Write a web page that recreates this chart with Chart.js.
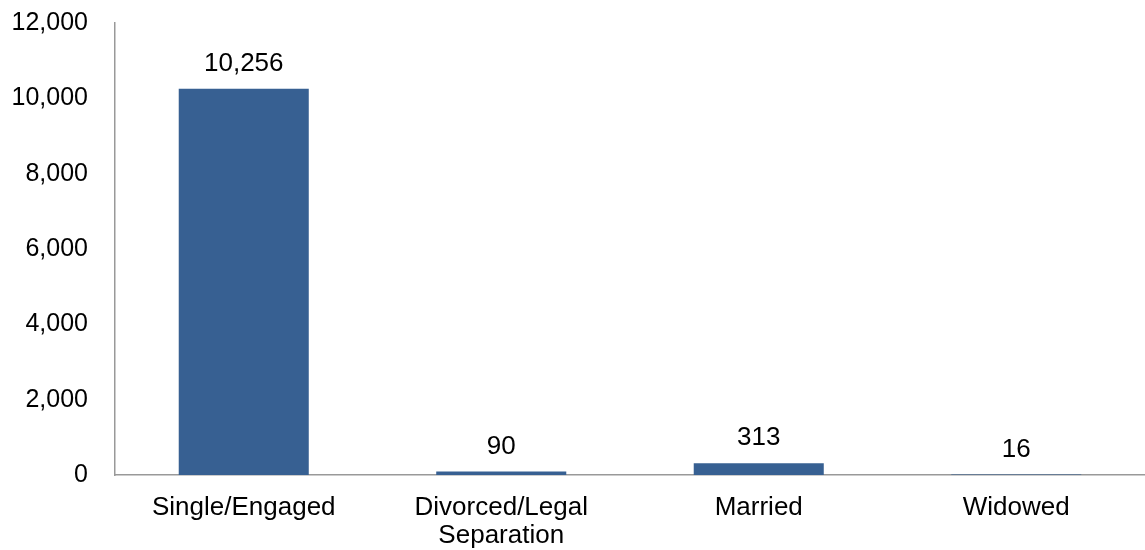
<!DOCTYPE html>
<html>
<head>
<meta charset="utf-8">
<script src="https://cdn.jsdelivr.net/npm/chart.js@4"></script>
<style>
  html, body { margin: 0; padding: 0; background: #fff; overflow: hidden; }
  #outer { width: 1145px; height: 550px; overflow: hidden; }
  #wrap { width: 1145px; height: 569px; margin-top: -19px; }
</style>
</head>
<body>
<div id="outer"><div id="wrap"><canvas id="myChart"></canvas></div></div>
<script>
// data
var categories = ["Single/Engaged", ["Divorced/Legal", "Separation"], "Married", "Widowed"];
var counts = [10256, 90, 313, 16];
var yTicks = [0, 2000, 4000, 6000, 8000, 10000, 12000];

var fontFam = "'Liberation Sans', Arial, sans-serif";

// value labels above bars
var valueLabels = {
  id: "valueLabels",
  afterDatasetsDraw: function(chart) {
    var ctx = chart.ctx;
    var meta = chart.getDatasetMeta(0);
    ctx.save();
    ctx.font = "26px " + fontFam;
    ctx.fillStyle = "#000";
    ctx.textAlign = "center";
    ctx.textBaseline = "middle";
    meta.data.forEach(function(bar, i) {
      ctx.fillText(counts[i].toLocaleString("en-US"), bar.x, bar.y - 25);
    });
    ctx.restore();
  }
};

new Chart("myChart", {
  type: "bar",
  data: {
    labels: categories,
    datasets: [{
      data: counts,
      backgroundColor: "#376092",
      barPercentage: 0.505,
      categoryPercentage: 1
    }]
  },
  options: {
    responsive: true,
    maintainAspectRatio: false,
    animation: false,
    layout: { padding: 0 },
    plugins: {
      legend: { display: false },
      tooltip: { enabled: false }
    },
    scales: {
      x: {
        grid: { display: false, drawTicks: false },
        border: { color: "#999", width: 1.5 },
        ticks: {
          color: "#000",
          padding: 19,
          maxRotation: 0,
          autoSkip: false,
          font: { family: fontFam, size: 26, lineHeight: 1.07 }
        },
        afterFit: function(scale) { scale.height = 75; }
      },
      y: {
        min: 0,
        max: 12000,
        afterBuildTicks: function(scale) {
          scale.ticks = yTicks.map(function(v) { return { value: v }; });
        },
        grid: { display: false, drawTicks: false },
        border: { color: "#999", width: 1.5 },
        ticks: {
          color: "#000",
          padding: 27,
          callback: function(v) { return v.toLocaleString("en-US"); },
          font: { family: fontFam, size: 25 }
        },
        afterFit: function(scale) { scale.width = 115; }
      }
    }
  },
  plugins: [valueLabels]
});
</script>
</body>
</html>
